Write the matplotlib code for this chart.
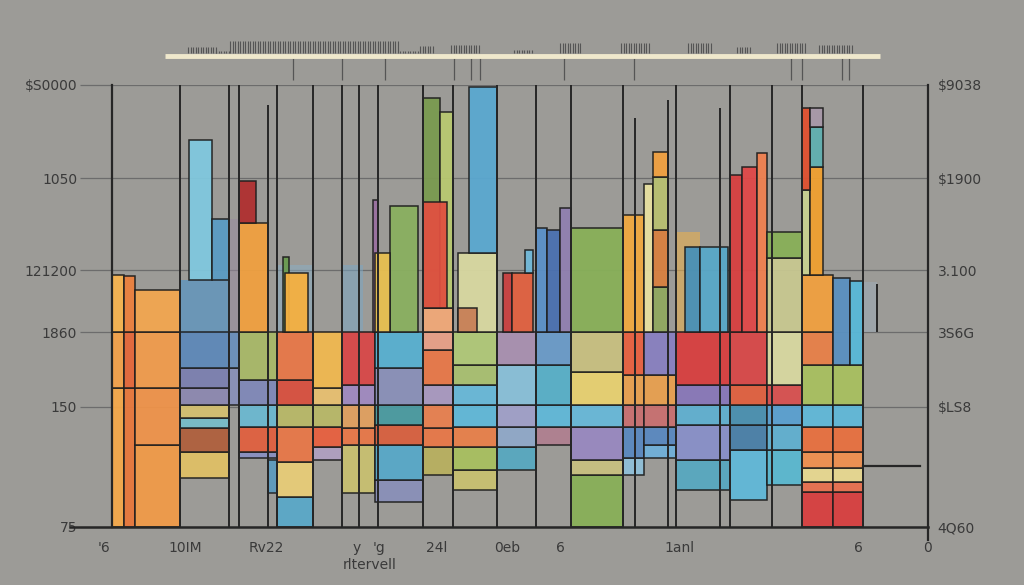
import matplotlib
matplotlib.use("Agg")
import matplotlib.pyplot as plt
import numpy as np

# y ticks (left and right labels share the same positions)
ytick_vals = [0, 120, 195, 257, 349, 442]
left_labels = ["75", "150", "1860", "121200", "1050", "$S0000"]
right_labels = ["4Q60", "$LS8", "3S6G", "3.100", "$1900", "$9038"]

# bottom labels
xlab_pos = [104, 185, 266, 357, 379, 437, 507, 560, 680, 858, 927]
xlab_text = ["'6", "10IM", "Rv22", "y", "'g", "24l", "0eb", "6", "1anl", "6", "0"]

# stacked columns: left edge, right edge, band bounds from bottom, band colours
stack_x0 = [112, 124, 135, 180, 229, 239, 277, 313, 342, 375, 423, 453, 497, 536,
            571, 623, 644, 676, 730, 767, 802, 833]
stack_x1 = [124, 135, 180, 229, 239, 277, 313, 342, 375, 423, 453, 497, 536, 571,
            623, 644, 676, 730, 767, 802, 833, 863]
stack_bounds = [
    [0, 139, 195, 252],
    [0, 139, 195, 251],
    [0, 82, 139, 195, 237],
    [49, 75, 99, 109, 122, 139, 159, 195],
    [122, 159, 195],
    [69, 75, 100, 122, 147, 195],
    [0, 30, 65, 100, 122, 147, 195],
    [67, 80, 100, 122, 139, 195],
    [34, 82, 99, 122, 142, 195],
    [25, 47, 82, 102, 122, 159, 195],
    [52, 80, 99, 122, 142, 177, 195, 219],
    [37, 57, 80, 100, 122, 142, 162, 195],
    [57, 80, 100, 122, 162, 195],
    [82, 100, 122, 162, 195],
    [0, 52, 67, 100, 122, 155, 195],
    [52, 69, 100, 122, 152, 195],
    [69, 82, 100, 122, 152, 195],
    [37, 67, 102, 122, 142, 195],
    [27, 77, 102, 122, 142, 195],
    [42, 77, 102, 122, 142, 195],
    [0, 35, 45, 59, 75, 100, 122, 162, 195, 252],
    [0, 35, 45, 59, 75, 100, 122, 162],
]
stack_colors = [
    ["#f4a84a", "#f3a24a", "#f6b450"],
    ["#e8783c", "#e4683a", "#ec803e"],
    ["#f09a48", "#ef934a", "#f09c4c", "#f2a650"],
    ["#dfc066", "#b0603e", "#78bcc8", "#d4c070", "#8d88b0", "#7c80b0", "#5e88b8"],
    ["#8890b8", "#6b8fbb"],
    ["#8a90c0", "#e06040", "#6cb8d0", "#8088b8", "#a8b868"],
    ["#5aa8c8", "#e8cc78", "#e87848", "#b8b868", "#d85040", "#e87848"],
    ["#b0a0c0", "#e86040", "#b8b868", "#e8c070", "#f0b850"],
    ["#c8c070", "#e87848", "#e0a060", "#a08ac0", "#d84848"],
    ["#8a90b8", "#58a8c8", "#d86040", "#4a9aa0", "#8a90b8", "#58b0d0"],
    ["#b8b060", "#e87848", "#e88050", "#a898c0", "#e87848", "#e8a088", "#f0a878"],
    ["#c8c070", "#a8c060", "#e8804a", "#60b8d8", "#68b8d8", "#a8c070", "#b0c878"],
    ["#58a8c0", "#90a8c8", "#a0a0c8", "#88c0d8", "#a890b0"],
    ["#b08090", "#60b8d8", "#58b0c8", "#6a9ac8"],
    ["#88b058", "#c8c080", "#9888c0", "#68b8d8", "#e8d070", "#c8c080"],
    ["#90c0d8", "#5a88c0", "#c87070", "#e8a050", "#e86040"],
    ["#70b0d8", "#5a88c0", "#c87070", "#e8a050", "#8880c0"],
    ["#58a8c0", "#8890c8", "#60b0d0", "#8878b8", "#d84040"],
    ["#60b8d8", "#4a80a8", "#4a90b0", "#e06040", "#d84848"],
    ["#5ab8d0", "#60b0d0", "#5aa0d0", "#d85050", "#d8d8a0"],
    ["#d84040", "#e87050", "#e8d890", "#f09050", "#e87040", "#60b8d8", "#a8c060",
     "#e88048", "#f0a040"],
    ["#d84040", "#e87050", "#e8d890", "#f09050", "#e87040", "#60b8d8", "#a8c060"],
]

# single bars rising above the stacks (drawn in order)
peak_x0 = [180, 229, 277, 342, 676, 863, 268,
           189, 212, 239, 239, 283, 285, 373, 390, 375, 423, 440, 423, 458, 458, 469,
           503, 512, 525, 536, 547, 560, 571, 623, 644, 653, 653, 653, 653, 685, 700,
           730, 742, 757, 767, 767, 802, 810, 810, 802, 810, 833, 850]
peak_x1 = [229, 239, 313, 363, 700, 877, 277,
           212, 229, 268, 256, 289, 308, 378, 418, 390, 440, 453, 447, 497, 477, 497,
           512, 533, 533, 547, 560, 571, 623, 644, 653, 668, 668, 668, 668, 700, 728,
           742, 757, 767, 802, 802, 810, 823, 823, 810, 823, 850, 863]
peak_base = [195, 195, 195, 195, 195, 195, 34,
             247, 247, 195, 304, 195, 195, 195, 195, 195, 219, 219, 219, 195, 195, 274,
             195, 195, 254, 195, 195, 195, 195, 195, 195, 195, 240, 297, 350, 195, 195,
             195, 195, 195, 195, 269, 252, 252, 360, 337, 400, 162, 162]
peak_top = [247, 308, 262, 262, 295, 245, 67,
            387, 308, 304, 346, 270, 254, 327, 321, 274, 429, 415, 325, 274, 219, 440,
            254, 254, 277, 299, 297, 319, 299, 312, 343, 240, 297, 350, 375, 280, 280,
            352, 360, 374, 269, 295, 337, 360, 400, 419, 419, 249, 246]
peak_color = ["#5f95bf", "#9a8aa0", "#8ab0c8", "#7aa8c8", "#e8b050", "#a0b0c0", "#5a9ac0",
              "#80c8de", "#5a9cc4", "#f0a040", "#b03030", "#6a9a50", "#f5b040", "#9a70a0",
              "#8ab060", "#e8c050", "#7a9a50", "#b8c870", "#e05040", "#d8d8a0", "#c88058",
              "#5aa8d0", "#c84040", "#e06040", "#70b8d8", "#5a90c8", "#4a70b0", "#9080b0",
              "#88b058", "#f0a840", "#e8e0a0", "#90a860", "#d88040", "#b8c070", "#f0a040",
              "#4890b8", "#58a8c8", "#d84040", "#e04848", "#f08050", "#c8c890", "#88b058",
              "#c8d090", "#f0a030", "#60b0b0", "#e05030", "#a898a8", "#5a90c0", "#58b8d8"]
peak_alpha = [0.8, 0.5, 0.5, 0.5, 0.6, 0.45, 0.9] + [0.95] * 42

# thin dark verticals through the chart
vline_x = [180, 229, 239, 268, 277, 313, 342, 359, 378, 423, 453, 497, 536, 571, 623,
           635, 668, 676, 720, 730, 772, 802, 863, 877]
vline_lo = [0] * 23 + [195]
vline_hi = [442, 442, 442, 422, 442, 442, 442, 442, 442, 442, 442, 442, 442, 442, 442,
            409, 427, 442, 419, 442, 442, 442, 442, 243]

# strip along the top: barcode spans (start, end, height) and hanging lines
code_x0 = [188, 216, 230, 400, 420, 451, 514, 560, 621, 688, 737, 777, 819]
code_x1 = [216, 230, 400, 420, 435, 481, 532, 581, 649, 712, 751, 805, 854]
code_h = [6, 2, 12, 2, 7, 8, 3, 10, 10, 10, 6, 10, 8]
hang_x = [293, 342, 385, 454, 471, 480, 564, 634, 791, 802, 842, 849]

bg = "#9c9b97"
edge = "#1e1e1e"

fig = plt.figure(figsize=(10.24, 5.85), dpi=100, facecolor=bg)
ax = fig.add_axes([112 / 1024, 58 / 585, 816 / 1024, 442 / 585])
ax.set_facecolor(bg)
ax.set_xlim(112, 928)
ax.set_ylim(0, 442)

# grid + ticks
ax.set_yticks(ytick_vals, left_labels)
ax.grid(axis="y", color="#6c6c6c", lw=0.9)
ax.set_axisbelow(True)
ax.tick_params(axis="y", length=23, width=0.9, color="#6c6c6c", pad=2,
               labelsize=10, labelcolor="#3a3a3a")
ax.tick_params(axis="x", length=0, labelbottom=False)
for s in ax.spines.values():
    s.set_visible(False)

ax2 = ax.twinx()
ax2.set_ylim(0, 442)
ax2.set_yticks(ytick_vals, right_labels)
ax2.tick_params(axis="y", length=0, pad=7, labelsize=10, labelcolor="#3a3a3a")
for s in ax2.spines.values():
    s.set_visible(False)

z = 2
for i in range(len(peak_x0)):
    if peak_alpha[i] < 0.85:
        ax.bar(peak_x0[i], peak_top[i] - peak_base[i], width=peak_x1[i] - peak_x0[i],
               bottom=peak_base[i], align="edge", color=peak_color[i],
               alpha=peak_alpha[i], edgecolor="none", zorder=z)

for x0, x1, b, cols in zip(stack_x0, stack_x1, stack_bounds, stack_colors):
    b = np.array(b)
    ax.bar([x0] * len(cols), np.diff(b), width=x1 - x0, bottom=b[:-1], align="edge",
           color=cols, edgecolor=edge, lw=1.1, alpha=0.95, zorder=3)

z = 4
for i in range(len(peak_x0)):
    if peak_alpha[i] >= 0.85:
        ax.bar(peak_x0[i], peak_top[i] - peak_base[i], width=peak_x1[i] - peak_x0[i],
               bottom=peak_base[i], align="edge", color=peak_color[i],
               alpha=peak_alpha[i], edgecolor=edge, lw=1.1, zorder=z)
        z += 0.01

ax.vlines(vline_x, vline_lo, vline_hi, color="#262626", lw=1.4, zorder=6)

# frame lines
ax.plot([112, 112], [0, 442], color="#262626", lw=1.6, zorder=6, clip_on=False)
ax.plot([928, 928], [-13, 442], color="#262626", lw=1.6, zorder=6, clip_on=False)
ax.plot([70, 928], [0, 0], color="#262626", lw=1.8, zorder=6, clip_on=False)
ax.plot([863, 920], [61, 61], color="#262626", lw=1.6, zorder=6, clip_on=False)

# top strip
ax.plot([165, 880], [471, 471], color="#efe8cc", lw=3.5, clip_on=False,
        solid_capstyle="butt", zorder=6)
for x0, x1, h in zip(code_x0, code_x1, code_h):
    xs = np.arange(x0, x1, 2.5)
    ax.vlines(xs, 474, 474 + h, color="#555555", lw=0.8, clip_on=False)
ax.vlines(hang_x, 447, 469, color="#555555", lw=0.9, clip_on=False)

# bottom labels
for x, t in zip(xlab_pos, xlab_text):
    ax.text(x, -21, t, ha="center", va="center", fontsize=10, color="#3a3a3a",
            clip_on=False)
ax.text(370, -38, "rltervell", ha="center", va="center", fontsize=10,
        color="#3a3a3a", clip_on=False)

fig.savefig("out.png", dpi=100, facecolor=bg)
